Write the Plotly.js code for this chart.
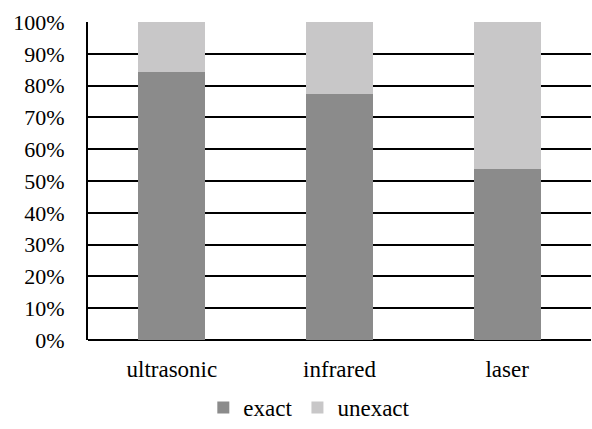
<!DOCTYPE html>
<html>
<head>
<meta charset="utf-8">
<script src="https://cdn.plot.ly/plotly-3.0.1.min.js"></script>
<style>html,body{margin:0;padding:0;background:#fff}#chart{width:592px;height:429px}</style>
</head>
<body>
<div id="chart"></div>
<script>
const categories = ["ultrasonic", "infrared", "laser"];
const exactValues = [84.3, 77.5, 53.7];
const unexactValues = [15.7, 22.5, 46.3];
const yTickVals = [0, 10, 20, 30, 40, 50, 60, 70, 80, 90, 100];
const yTickText = ["0%", "10%", "20%", "30%", "40%", "50%", "60%", "70%", "80%", "90%", "100%"];

const fam = "Liberation Serif";
const yFont = {family: fam, size: 22, color: "#000"};
const xFont = {family: fam, size: 23, color: "#000"};

const traces = [
  {type: "bar", name: "exact", x: categories, y: exactValues,
   marker: {color: "#8b8b8b", line: {width: 0}}, hoverinfo: "skip"},
  {type: "bar", name: "unexact", x: categories, y: unexactValues,
   marker: {color: "#c8c7c8", line: {width: 0}}, hoverinfo: "skip"}
];

const layout = {
  width: 592, height: 429,
  margin: {l: 88, r: 1, t: 22, b: 89},
  barmode: "stack",
  bargap: 0.6,
  paper_bgcolor: "#fff", plot_bgcolor: "#fff",
  font: xFont,
  showlegend: true,
  legend: {orientation: "h", xref: "paper", x: 0.44, xanchor: "center",
           yref: "container", y: 0.05, yanchor: "middle",
           font: xFont, traceorder: "normal", itemwidth: 30},
  xaxis: {showgrid: false, zeroline: false, showline: false, ticks: "",
          ticklabelstandoff: 13, tickfont: xFont, fixedrange: true},
  yaxis: {range: [0, 100], tickvals: yTickVals, ticktext: yTickText,
          showgrid: true, gridcolor: "#000", gridwidth: 2,
          zeroline: true, zerolinecolor: "#000", zerolinewidth: 2,
          showline: true, linecolor: "#000", linewidth: 2,
          ticks: "", ticklabelstandoff: 17, tickfont: yFont, fixedrange: true},
  hovermode: false
};

Plotly.newPlot("chart", traces, layout, {displayModeBar: false, staticPlot: true});
</script>
</body>
</html>
